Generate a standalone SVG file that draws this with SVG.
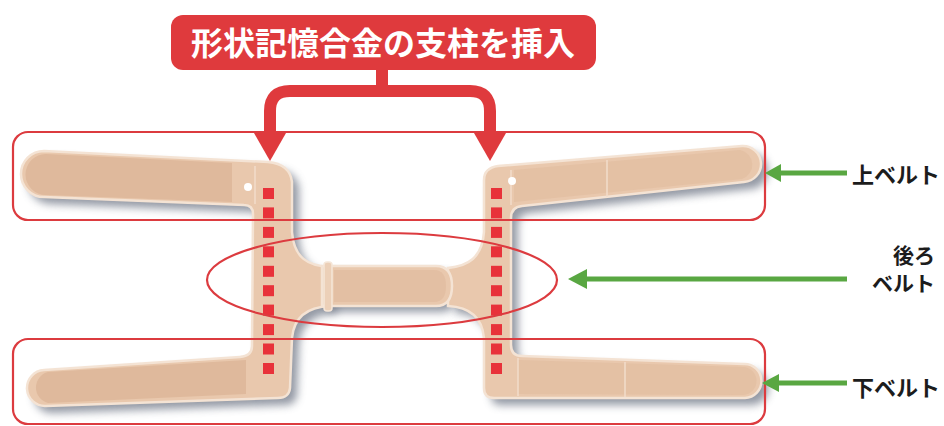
<svg xmlns="http://www.w3.org/2000/svg" width="944" height="426" viewBox="0 0 944 426">
  <defs>
    <filter id="soft" x="-10%" y="-20%" width="120%" height="140%">
      <feGaussianBlur stdDeviation="4"/>
    </filter>
    <style>
      .shadow { fill: #6f7786; opacity: 0.75; filter: url(#soft); }
      .fabric { fill: #e9c8ad; stroke: #f4e3d4; stroke-width: 2.5; }
      .velcro { fill: #dfb99c; }
      .seam { stroke: #f2dccb; stroke-width: 1.5; fill: none; }
      .hole { fill: #ffffff; }
      .frame { fill: none; stroke: #dc3b3f; stroke-width: 2.2; }
      .stay { fill: #e8323a; }
      .redline { fill: none; stroke: #df3a3d; stroke-width: 12; }
      .redhead { fill: #df3a3d; }
      .greenline { stroke: #59a742; stroke-width: 5; fill: none; }
      .greenhead { fill: #59a742; }
      .label { font-family: "Noto Sans CJK JP", "Noto Sans", sans-serif; font-weight: 700; font-size: 22px; fill: #1c1c1c; }
      .label.small { font-size: 21px; }
      .title { font-family: "Noto Sans CJK JP", "Noto Sans", sans-serif; font-weight: 700; font-size: 32px; fill: #ffffff; }
    </style>
    <path id="leftPiece" d="M 44,151 L 268,162 Q 290,164 292,182 L 292,232 C 294,258 308,266 330,267 L 330,306 C 308,307 294,316 292,338 L 290,388 Q 289,398 278,398 L 46,406 A 18,18 0 0 1 44,370 L 240,357 Q 252,356 252,346 L 253,214 Q 253,205 244,205 L 44,197 A 23,23 0 0 1 44,151 Z"/>
    <path id="rightPiece" d="M 498,166 L 742,146 A 18,18 0 0 1 744,182 L 522,206 Q 511,207 511,218 L 511,345 Q 511,356 522,356 L 744,364 A 17,17 0 0 1 745,398 L 494,398 Q 484,398 484,388 L 484,338 C 482,316 468,307 448,306 L 448,268 C 468,266 482,258 484,232 L 484,180 Q 484,168 498,166 Z"/>
    <path id="midStrap" d="M 322,266 L 436,266 Q 452,266 452,286 Q 452,306 436,306 L 322,306 Z"/>
  </defs>

  <!-- belt body -->
  <g id="belt">
    <use href="#leftPiece" class="shadow" transform="translate(7,7)"/>
    <use href="#rightPiece" class="shadow" transform="translate(7,7)"/>
    <use href="#midStrap" class="shadow" transform="translate(5,6)"/>
    <use href="#leftPiece" class="fabric"/>
    <use href="#rightPiece" class="fabric"/>
    <use href="#midStrap" class="fabric"/>
    <!-- hook-and-loop panels -->
    <path class="velcro" d="M 46,154 L 232,163 L 232,202 L 46,195 A 20,20 0 0 1 46,154 Z"/>
    <path class="velcro" d="M 48,372 L 246,360 L 246,394 L 48,403 A 16,16 0 0 1 48,372 Z"/>
    <path class="velcro" d="M 514,170 L 740,150 A 15,15 0 0 1 742,179 L 514,202 Z" opacity="0.5"/>
    <path class="velcro" d="M 518,360 L 742,367 A 14,14 0 0 1 743,395 L 518,394 Z" opacity="0.5"/>
    <path class="velcro" d="M 334,270 L 434,270 Q 446,270 446,286 Q 446,302 434,302 L 334,302 Z" opacity="0.6"/>
    <line class="seam" x1="255" y1="166" x2="255" y2="204"/>
    <line class="seam" x1="511" y1="170" x2="511" y2="205"/>
    <line class="seam" x1="607" y1="160" x2="607" y2="197"/>
    <line class="seam" x1="518" y1="358" x2="518" y2="396"/>
    <line class="seam" x1="625" y1="362" x2="625" y2="397"/>
    <!-- buckle bar of the back strap -->
    <rect x="324" y="262" width="8" height="49" rx="3" fill="#ecd0b8" stroke="#f5e6d8" stroke-width="1.5"/>
    <circle class="hole" cx="248" cy="187" r="4"/>
    <circle class="hole" cx="512" cy="181" r="4"/>
  </g>

  <!-- shape-memory alloy stays -->
  <g id="stays">
    <rect class="stay" x="263" y="188" width="11" height="11"/>
    <rect class="stay" x="263" y="207.4" width="11" height="11"/>
    <rect class="stay" x="263" y="226.9" width="11" height="11"/>
    <rect class="stay" x="263" y="246.3" width="11" height="11"/>
    <rect class="stay" x="263" y="265.8" width="11" height="11"/>
    <rect class="stay" x="263" y="285.2" width="11" height="11"/>
    <rect class="stay" x="263" y="304.6" width="11" height="11"/>
    <rect class="stay" x="263" y="324.1" width="11" height="11"/>
    <rect class="stay" x="263" y="343.5" width="11" height="11"/>
    <rect class="stay" x="263" y="363" width="11" height="11"/>
    <rect class="stay" x="491" y="188" width="11" height="11"/>
    <rect class="stay" x="491" y="207.4" width="11" height="11"/>
    <rect class="stay" x="491" y="226.9" width="11" height="11"/>
    <rect class="stay" x="491" y="246.3" width="11" height="11"/>
    <rect class="stay" x="491" y="265.8" width="11" height="11"/>
    <rect class="stay" x="491" y="285.2" width="11" height="11"/>
    <rect class="stay" x="491" y="304.6" width="11" height="11"/>
    <rect class="stay" x="491" y="324.1" width="11" height="11"/>
    <rect class="stay" x="491" y="343.5" width="11" height="11"/>
    <rect class="stay" x="491" y="363" width="11" height="11"/>
  </g>

  <!-- highlighted regions -->
  <g id="upperBelt">
    <rect class="frame" x="13" y="132" width="752" height="88" rx="15"/>
  </g>
  <g id="backBelt">
    <ellipse class="frame" cx="382" cy="280" rx="175" ry="47"/>
  </g>
  <g id="lowerBelt">
    <rect class="frame" x="13" y="339" width="752" height="85" rx="15"/>
  </g>

  <g id="titleBox">
    <rect x="171" y="15" width="425" height="55" rx="12" fill="#df3a3d"/>
    <text class="title" x="383" y="55" text-anchor="middle">形状記憶合金の支柱を挿入</text>
  </g>

  <!-- connectors -->
  <g id="connectors">
    <path class="redline" d="M 382,66 L 382,91"/>
    <path class="redline" d="M 270,138 L 270,111 Q 270,91 290,91 L 470,91 Q 490,91 490,111 L 490,138"/>
    <polygon class="redhead" points="254,133 286,133 270,161"/>
    <polygon class="redhead" points="474,133 506,133 490,161"/>

    <line class="greenline" x1="778" y1="173" x2="847" y2="173"/>
    <polygon class="greenhead" points="765,173 781,164 781,182"/>
    <line class="greenline" x1="584" y1="279" x2="847" y2="279"/>
    <polygon class="greenhead" points="568,279 587,269 587,289"/>
    <line class="greenline" x1="776" y1="383" x2="847" y2="383"/>
    <polygon class="greenhead" points="762,383 779,374 779,392"/>
  </g>

  <g id="labels">
    <text class="label" x="852" y="183">上ベルト</text>
    <text class="label small" text-anchor="end"><tspan x="935" y="263">後ろ</tspan><tspan x="935" y="291">ベルト</tspan></text>
    <text class="label" x="852" y="396">下ベルト</text>
  </g>
</svg>
